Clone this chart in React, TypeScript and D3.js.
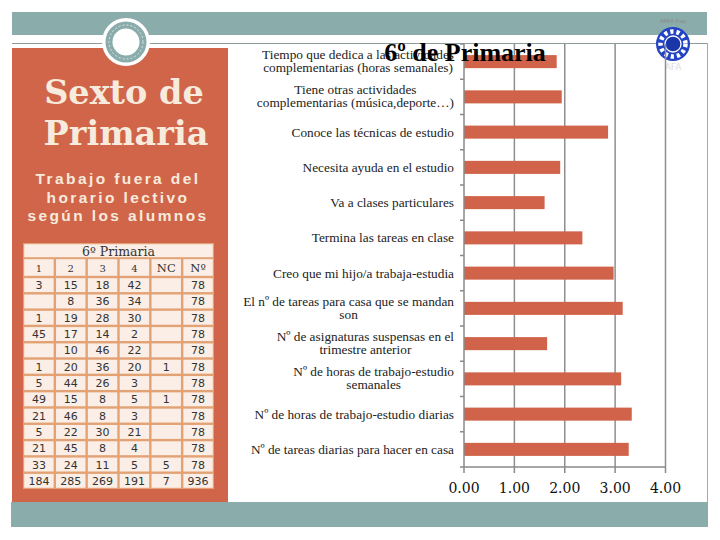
import * as d3 from "d3";
import { useEffect, useRef } from "react";

// chart categories, top to bottom (\n = line break in the label)
const categories = [
  "Tiempo que dedica a las actividades\ncomplementarias (horas semanales)",
  "Tiene otras actividades\ncomplementarias (música,deporte…)",
  "Conoce las técnicas de estudio",
  "Necesita ayuda en el estudio",
  "Va a clases particulares",
  "Termina las tareas en clase",
  "Creo que mi hijo/a trabaja-estudia",
  "El nº de tareas para casa que se mandan\nson",
  "Nº de asignaturas suspensas en el\ntrimestre anterior",
  "Nº de horas de trabajo-estudio\nsemanales",
  "Nº de horas de trabajo-estudio diarias",
  "Nº de tareas diarias para hacer en casa",
];
const values = [1.84, 1.94, 2.86, 1.91, 1.6, 2.35, 2.97, 3.15, 1.65, 3.12, 3.33, 3.27];
const xTicks = [0, 1, 2, 3, 4];

// table on the left
const tableTitle = "6º Primaria";
const tableHeaders = ["1", "2", "3", "4", "NC", "Nº"];
const col1 = [3, null, 1, 45, null, 1, 5, 49, 21, 5, 21, 33, 184];
const col2 = [15, 8, 19, 17, 10, 20, 44, 15, 46, 22, 45, 24, 285];
const col3 = [18, 36, 28, 14, 46, 36, 26, 8, 8, 30, 8, 11, 269];
const col4 = [42, 34, 30, 2, 22, 20, 3, 5, 3, 21, 4, 5, 191];
const colNC = [null, null, null, null, null, 1, null, 1, null, null, null, 5, 7];
const colTotal = [78, 78, 78, 78, 78, 78, 78, 78, 78, 78, 78, 78, 936];

const TEAL = "#8aacab";
const ORANGE = "#d16549";
const CREAM = "#f6ebdd";

const App = () => {
  const ref = useRef<SVGSVGElement | null>(null);

  useEffect(() => {
    const svg = d3.select(ref.current);
    svg.selectAll("*").remove();

    svg.append("rect").attr("width", 720).attr("height", 540).attr("fill", "#fff");

    // slide decoration
    svg.append("rect").attr("x", 12).attr("y", 12).attr("width", 695).attr("height", 23).attr("fill", TEAL);
    svg.append("line").attr("x1", 12).attr("x2", 707).attr("y1", 43.5).attr("y2", 43.5)
      .attr("stroke", "#8c9c9c").attr("stroke-width", 1);
    svg.append("rect").attr("x", 12).attr("y", 48).attr("width", 216).attr("height", 454).attr("fill", ORANGE);
    svg.append("rect").attr("x", 11).attr("y", 502).attr("width", 697).attr("height", 25).attr("fill", TEAL);
    svg.append("line").attr("x1", 707.5).attr("x2", 707.5).attr("y1", 43).attr("y2", 502)
      .attr("stroke", "#a8a8a8").attr("stroke-width", 1);

    svg.append("circle").attr("cx", 126).attr("cy", 42).attr("r", 24).attr("fill", "#fff");
    svg.append("circle").attr("cx", 126).attr("cy", 42).attr("r", 17).attr("fill", "#fff")
      .attr("stroke", TEAL).attr("stroke-width", 7);
    svg.append("circle").attr("cx", 126).attr("cy", 42).attr("r", 17).attr("fill", "none")
      .attr("stroke", "#e8f0f0").attr("stroke-width", 0.8).attr("stroke-dasharray", "2,2");

    // logo top right
    const logo = svg.append("g").attr("transform", "translate(673,44)");
    logo.append("circle").attr("r", 17).attr("fill", "#2342c4");
    logo.append("circle").attr("r", 12.5).attr("fill", "none").attr("stroke", "#fff")
      .attr("stroke-width", 4.5).attr("stroke-dasharray", "3.2,3");
    logo.append("circle").attr("r", 8).attr("fill", "#1a36a8").attr("stroke", "#fff").attr("stroke-width", 1.3);
    logo.append("text").attr("y", -21).attr("text-anchor", "middle").attr("font-size", 5)
      .attr("font-family", "DejaVu Sans").attr("fill", "#888").text("AMPA Fray");
    logo.append("text").attr("y", 26).attr("text-anchor", "middle").attr("font-size", 9)
      .attr("font-family", "DejaVu Sans").attr("fill", "#ddd").text("AFA");

    // left panel titles
    const title = svg.append("g").attr("fill", CREAM).attr("text-anchor", "middle")
      .attr("font-family", "DejaVu Serif").attr("font-weight", "bold").attr("font-size", 33.5);
    title.append("text").attr("x", 124).attr("y", 104).text("Sexto de");
    title.append("text").attr("x", 126).attr("y", 145).text("Primaria");
    const sub = svg.append("g").attr("fill", CREAM).attr("text-anchor", "middle")
      .attr("font-family", "Liberation Sans").attr("font-weight", "bold").attr("font-size", 15.5)
      .attr("letter-spacing", 2.4);
    ["Trabajo fuera del", "horario lectivo", "según los alumnos"].forEach((t, i) =>
      sub.append("text").attr("x", 118).attr("y", 184 + i * 18.5).text(t)
    );

    // table
    const cols = [col1, col2, col3, col4, colNC, colTotal];
    const tx = d3.scaleBand().domain(tableHeaders).range([23, 214]);
    const ty = d3.scaleBand().domain(d3.range(col1.length).map(String)).range([277, 489]);
    svg.append("rect").attr("x", 23).attr("y", 243).attr("width", 191).attr("height", 246).attr("fill", "#e3a274");
    svg.append("rect").attr("x", 24.2).attr("y", 244.2).attr("width", 188.6).attr("height", 13).attr("fill", "#faeee6");
    svg.append("text").attr("x", 118.5).attr("y", 255.5).attr("text-anchor", "middle")
      .attr("font-family", "DejaVu Serif").attr("font-size", 12.5).attr("fill", "#333").text(tableTitle);
    tableHeaders.forEach((h) => {
      svg.append("rect").attr("x", tx(h)! + 1.2).attr("y", 259.2).attr("width", tx.bandwidth() - 2.4)
        .attr("height", 16.6).attr("fill", "#faeee6");
      svg.append("text").attr("x", tx(h)! + tx.bandwidth() / 2).attr("y", 272)
        .attr("text-anchor", "middle").attr("font-family", "DejaVu Serif")
        .attr("font-size", h.length > 1 ? 11.5 : 10).attr("fill", "#333").text(h);
    });
    cols.forEach((col, ci) => {
      const h = tableHeaders[ci];
      col.forEach((v, ri) => {
        const y0 = ty(String(ri))!;
        svg.append("rect").attr("x", tx(h)! + 1.2).attr("y", y0 + 1.2).attr("width", tx.bandwidth() - 2.4)
          .attr("height", ty.bandwidth() - 2.4).attr("fill", "#faeee6");
        if (v !== null)
          svg.append("text").attr("x", tx(h)! + tx.bandwidth() / 2).attr("y", y0 + ty.bandwidth() / 2 + 4)
            .attr("text-anchor", "middle").attr("font-family", "DejaVu Sans").attr("font-size", 11)
            .attr("fill", "#333").text(v);
      });
    });

    // bar chart
    const x = d3.scaleLinear().domain([0, 4]).range([464, 665.5]);
    const y = d3.scaleBand().domain(categories).range([44, 467]).paddingInner(0.63).paddingOuter(0.315);
    const step = y.step();

    svg.append("g").selectAll("line").data(xTicks.slice(1)).join("line")
      .attr("x1", (d) => x(d)).attr("x2", (d) => x(d)).attr("y1", 44).attr("y2", 467)
      .attr("stroke", "#8f8f8f").attr("stroke-width", 1.5);

    svg.append("g").selectAll("rect").data(values).join("rect")
      .attr("x", x(0)).attr("y", (d, i) => y(categories[i])!)
      .attr("width", (d) => x(d) - x(0)).attr("height", y.bandwidth()).attr("fill", "#d0634a");

    // axes
    const axisColor = "#8a8a8a";
    svg.append("line").attr("x1", x(0)).attr("x2", x(0)).attr("y1", 44).attr("y2", 467)
      .attr("stroke", axisColor).attr("stroke-width", 1.5);
    svg.append("g").selectAll("line").data(d3.range(categories.length + 1)).join("line")
      .attr("x1", x(0) - 4).attr("x2", x(0)).attr("y1", (d) => 44 + d * step).attr("y2", (d) => 44 + d * step)
      .attr("stroke", axisColor).attr("stroke-width", 1.5);
    svg.append("line").attr("x1", x(0)).attr("x2", x(4)).attr("y1", 467).attr("y2", 467)
      .attr("stroke", axisColor).attr("stroke-width", 1.5);
    svg.append("g").selectAll("line").data(xTicks).join("line")
      .attr("x1", (d) => x(d)).attr("x2", (d) => x(d)).attr("y1", 467).attr("y2", 473)
      .attr("stroke", axisColor).attr("stroke-width", 1.5);
    svg.append("g").selectAll("text").data(xTicks).join("text")
      .attr("x", (d) => x(d)).attr("y", 493).attr("text-anchor", "middle")
      .attr("font-family", "DejaVu Serif").attr("font-size", 14).attr("fill", "#111")
      .text((d) => d.toFixed(2));

    // category labels: block right-aligned, lines centred within the block
    const labelRight = 454;
    categories.forEach((c) => {
      const lines = c.split("\n");
      const cy = y(c)! + y.bandwidth() / 2;
      const g = svg.append("g").attr("font-family", "Liberation Serif").attr("font-size", 13.3).attr("fill", "#222");
      const texts = lines.map((l, i) =>
        g.append("text").attr("text-anchor", "middle")
          .attr("y", lines.length === 1 ? cy + 4.5 : cy - 2.5 + i * 13).text(l)
      );
      const w = d3.max(texts, (t) => (t.node() as SVGTextElement).getComputedTextLength()) || 0;
      texts.forEach((t) => t.attr("x", labelRight - w / 2));
    });

    svg.append("text").attr("x", 465).attr("y", 61).attr("text-anchor", "middle")
      .attr("font-family", "Liberation Serif").attr("font-weight", "bold").attr("font-size", 26)
      .attr("fill", "#000").text("6º de Primaria");
  }, []);

  return (
    <svg ref={ref} width={720} height={540} style={{ position: "absolute", left: 0, top: 0 }} />
  );
};

export default App;
